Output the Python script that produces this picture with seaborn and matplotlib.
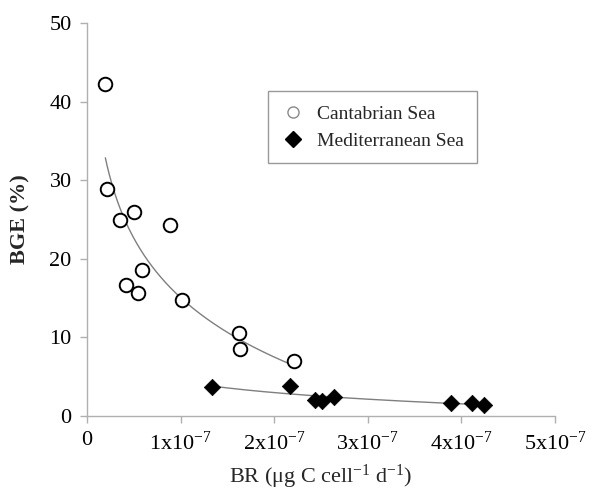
# plot.py - BGE vs BR, Cantabrian vs Mediterranean
import numpy as np
import pandas as pd
import matplotlib
matplotlib.use('Agg')
import matplotlib.pyplot as plt
from matplotlib.lines import Line2D
import seaborn as sns

# BR in units of 1e-7 ug C cell-1 d-1, BGE in %
cant_br = [0.196, 0.209, 0.355, 0.505, 0.885, 0.588, 0.42, 0.547, 1.018, 1.628, 1.636, 2.215]
cant_bge = [42.2, 28.9, 24.9, 26.0, 24.3, 18.6, 16.6, 15.6, 14.7, 10.6, 8.5, 7.0]
med_br = [1.336, 2.174, 2.433, 2.51, 2.64, 3.894, 4.115, 4.245]
med_bge = [3.7, 3.85, 2.05, 1.95, 2.35, 1.7, 1.6, 1.35]

x_ticks = [0, 1, 2, 3, 4, 5]
x_ticklabels = ['0', '1x10$^{-7}$', '2x10$^{-7}$', '3x10$^{-7}$', '4x10$^{-7}$', '5x10$^{-7}$']
y_ticks = [0, 10, 20, 30, 40, 50]

sns.set_style('white')
plt.rcParams['font.family'] = ['Liberation Serif', 'DejaVu Serif']
plt.rcParams['mathtext.fontset'] = 'custom'
plt.rcParams['mathtext.rm'] = 'Liberation Serif'
plt.rcParams['mathtext.it'] = 'Liberation Serif:italic'

df_c = pd.DataFrame({'BR': cant_br, 'BGE': cant_bge})
df_m = pd.DataFrame({'BR': med_br, 'BGE': med_bge})


def log_fit(df):
    # logarithmic trendline, drawn over the data range
    b, a = np.polyfit(np.log(df['BR']), df['BGE'], 1)
    xs = np.linspace(df['BR'].min(), df['BR'].max(), 200)
    return pd.DataFrame({'BR': xs, 'BGE': a + b * np.log(xs)})


fig = plt.figure(figsize=(6.14, 4.94), dpi=100)
ax = fig.add_axes([0.1417, 0.158, 0.7622, 0.7956])

sns.lineplot(data=log_fit(df_c), x='BR', y='BGE', ax=ax, color='#7f7f7f', lw=1.0)
sns.lineplot(data=log_fit(df_m), x='BR', y='BGE', ax=ax, color='#7f7f7f', lw=1.0)

sns.scatterplot(data=df_c, x='BR', y='BGE', ax=ax, marker='o', s=95,
                facecolor='white', edgecolor='black', linewidth=1.4, zorder=3)
sns.scatterplot(data=df_m, x='BR', y='BGE', ax=ax, marker='D', s=70,
                color='black', edgecolor='black', linewidth=0.5, zorder=3)

ax.set_xlim(0, 5)
ax.set_ylim(0, 50)
ax.set_xticks(x_ticks)
ax.set_xticklabels(x_ticklabels)
ax.set_yticks(y_ticks)
ax.tick_params(axis='both', labelsize=16, colors='#b0b0b0', labelcolor='black',
               length=5, width=1, direction='out', pad=6, bottom=True, left=True)
for side in ['top', 'right']:
    ax.spines[side].set_visible(False)
for side in ['left', 'bottom']:
    ax.spines[side].set_color('#b0b0b0')
    ax.spines[side].set_linewidth(1.0)

ax.set_xlabel('BR (μg C cell$^{-1}$ d$^{-1}$)', fontsize=16, labelpad=6)
ax.set_ylabel('BGE (%)', fontsize=16, fontweight='bold', labelpad=14)

handles = [
    Line2D([], [], marker='o', ls='none', markersize=8, markerfacecolor='white',
           markeredgecolor='#888888', markeredgewidth=1.0, label='Cantabrian Sea'),
    Line2D([], [], marker='D', ls='none', markersize=8, color='black',
           label='Mediterranean Sea'),
]
leg = ax.legend(handles=handles, loc='upper left', bbox_to_anchor=(0.387, 0.826),
                borderaxespad=0, fontsize=14, frameon=True, fancybox=False,
                handletextpad=0.6, borderpad=0.7, labelspacing=0.5, handlelength=1.2)
leg.get_frame().set_edgecolor('#808080')
leg.get_frame().set_linewidth(1.0)

fig.savefig('out.png', dpi=100, facecolor='white')
